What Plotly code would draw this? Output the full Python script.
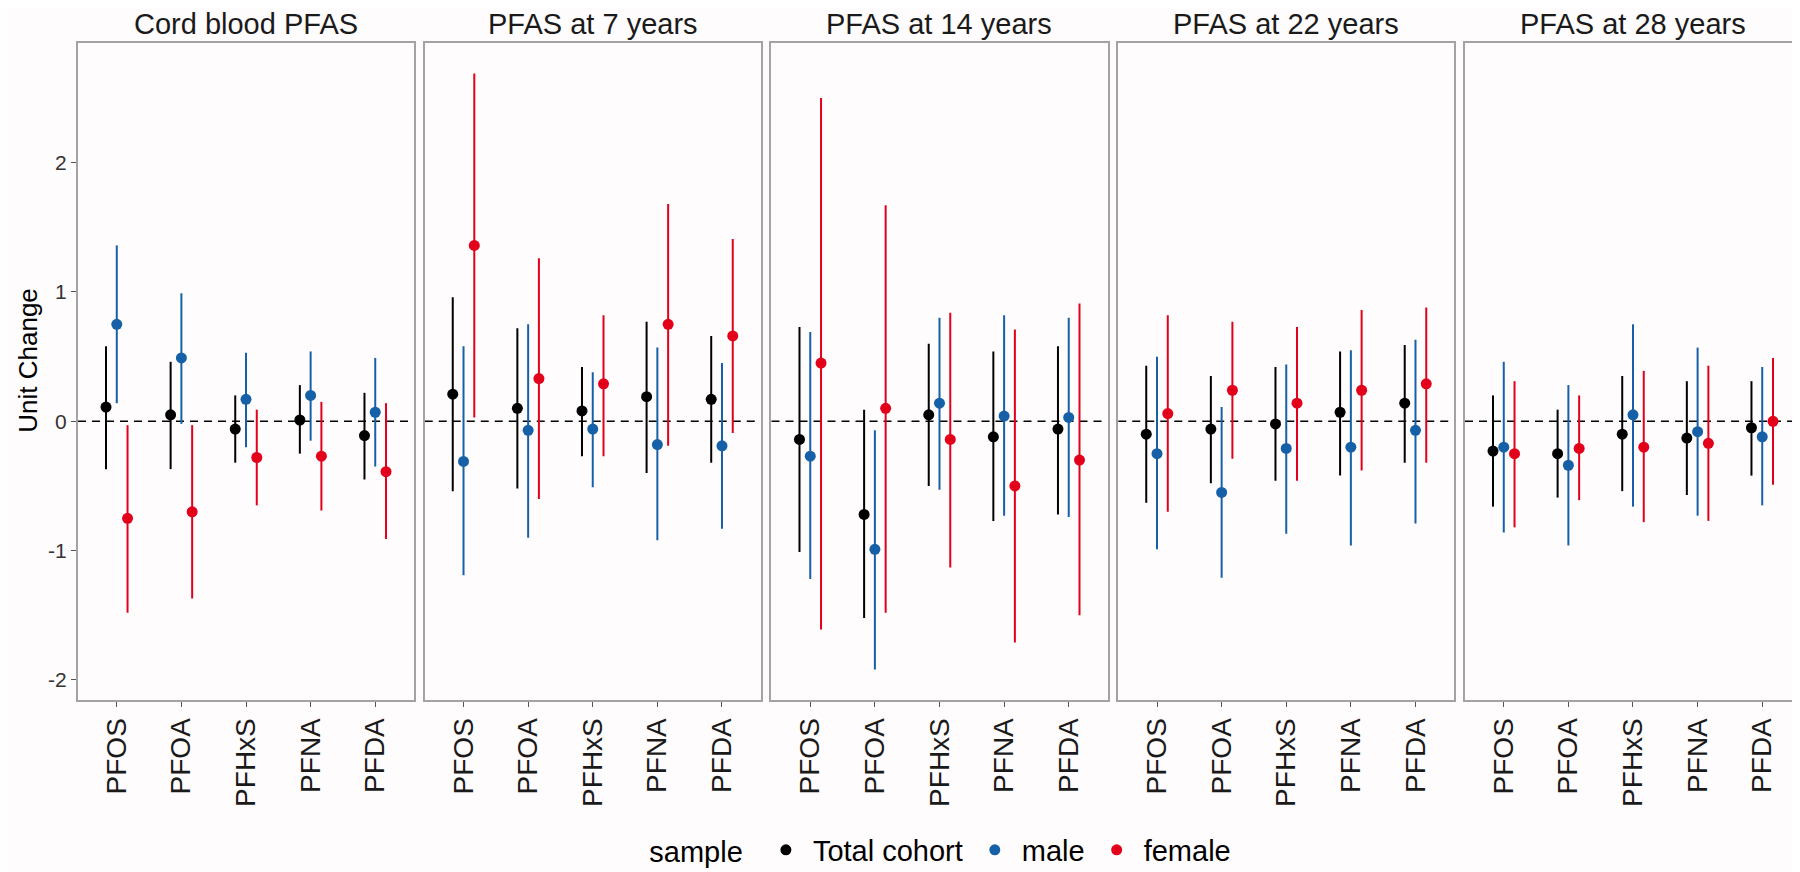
import plotly.graph_objects as go

# ---------------- data ----------------
panels = ["Cord blood PFAS", "PFAS at 7 years", "PFAS at 14 years",
          "PFAS at 22 years", "PFAS at 28 years"]
compounds = ["PFOS", "PFOA", "PFHxS", "PFNA", "PFDA"]
series = ["Total cohort", "male", "female"]

total_est = [[0.11, 0.05, -0.06, 0.01, -0.11],
             [0.21, 0.10, 0.08, 0.19, 0.17],
             [-0.14, -0.72, 0.05, -0.12, -0.06],
             [-0.10, -0.06, -0.02, 0.07, 0.14],
             [-0.23, -0.25, -0.10, -0.13, -0.05]]
total_lo = [[-0.37, -0.37, -0.32, -0.25, -0.45],
            [-0.54, -0.52, -0.27, -0.40, -0.32],
            [-1.01, -1.52, -0.50, -0.77, -0.72],
            [-0.63, -0.48, -0.46, -0.42, -0.32],
            [-0.66, -0.59, -0.54, -0.57, -0.42]]
total_hi = [[0.58, 0.46, 0.20, 0.28, 0.22],
            [0.96, 0.72, 0.42, 0.77, 0.66],
            [0.73, 0.09, 0.60, 0.54, 0.58],
            [0.43, 0.35, 0.42, 0.54, 0.59],
            [0.20, 0.09, 0.35, 0.31, 0.31]]

male_est = [[0.75, 0.49, 0.17, 0.20, 0.07],
            [-0.31, -0.07, -0.06, -0.18, -0.19],
            [-0.27, -0.99, 0.14, 0.04, 0.03],
            [-0.25, -0.55, -0.21, -0.20, -0.07],
            [-0.20, -0.34, 0.05, -0.08, -0.12]]
male_lo = [[0.14, -0.02, -0.20, -0.15, -0.35],
           [-1.19, -0.90, -0.51, -0.92, -0.83],
           [-1.22, -1.92, -0.53, -0.73, -0.74],
           [-0.99, -1.21, -0.87, -0.96, -0.79],
           [-0.86, -0.96, -0.66, -0.73, -0.65]]
male_hi = [[1.36, 0.99, 0.53, 0.54, 0.49],
           [0.58, 0.75, 0.38, 0.57, 0.45],
           [0.69, -0.07, 0.80, 0.82, 0.80],
           [0.50, 0.11, 0.44, 0.55, 0.63],
           [0.46, 0.28, 0.75, 0.57, 0.42]]

female_est = [[-0.75, -0.70, -0.28, -0.27, -0.39],
              [1.36, 0.33, 0.29, 0.75, 0.66],
              [0.45, 0.10, -0.14, -0.50, -0.30],
              [0.06, 0.24, 0.14, 0.24, 0.29],
              [-0.25, -0.21, -0.20, -0.17, 0.00]]
female_lo = [[-1.48, -1.37, -0.65, -0.69, -0.91],
             [0.03, -0.60, -0.27, -0.19, -0.09],
             [-1.61, -1.48, -1.13, -1.71, -1.50],
             [-0.70, -0.29, -0.46, -0.38, -0.32],
             [-0.82, -0.61, -0.78, -0.77, -0.49]]
female_hi = [[-0.03, -0.03, 0.09, 0.15, 0.14],
             [2.69, 1.26, 0.82, 1.68, 1.41],
             [2.50, 1.67, 0.84, 0.71, 0.91],
             [0.82, 0.77, 0.73, 0.86, 0.88],
             [0.31, 0.20, 0.39, 0.43, 0.49]]

y_ticks = [-2, -1, 0, 1, 2]

# ---------------- styling ----------------
colors = {"Total cohort": "#000000", "male": "#1660A8", "female": "#E2001A"}
bg = "#FFFCFD"
border = "#A3A3A3"
FONT = "Liberation Sans, Arial, sans-serif"

W, H = 1800, 872
ML, MR, MT, MB = 70, 5, 35, 171
plot_w = W - ML - MR
plot_h = H - MT - MB
panel_w = 336.4
gap = (plot_w - 5 * panel_w) / 4

est = {"Total cohort": total_est, "male": male_est, "female": female_est}
lo = {"Total cohort": total_lo, "male": male_lo, "female": female_lo}
hi = {"Total cohort": total_hi, "male": male_hi, "female": female_hi}

fig = go.Figure()
layout = {}
shapes = []
annotations = []

for p, title in enumerate(panels):
    ax = "" if p == 0 else str(p + 1)
    x0 = p * (panel_w + gap) / plot_w
    x1 = (p * (panel_w + gap) + panel_w) / plot_w
    for s in series:
        e = est[s][p]
        l = lo[s][p]
        h = hi[s][p]
        fig.add_trace(go.Scatter(
            x=compounds, y=e, mode="markers", name=s,
            legendgroup=s, showlegend=(p == 0),
            offsetgroup=s,
            marker=dict(color=colors[s], size=11),
            error_y=dict(type="data", symmetric=False,
                         array=[hh - ee for hh, ee in zip(h, e)],
                         arrayminus=[ee - ll for ee, ll in zip(e, l)],
                         width=0, thickness=2, color=colors[s]),
            xaxis="x" + ax, yaxis="y" + ax,
        ))
    layout["xaxis" + ax] = dict(
        domain=[x0, x1], anchor="y" + ax, type="category",
        categoryorder="array", categoryarray=compounds,
        range=[-0.6, 4.6], showline=True, mirror=True, linecolor=border,
        linewidth=2, ticks="outside", ticklen=5, tickwidth=1.2, tickcolor="#555555",
        tickangle=-90, showgrid=False, zeroline=False,
        tickfont=dict(family=FONT, size=28, color="#1a1a1a"),
    )
    ydict = dict(
        domain=[0, 1], anchor="x" + ax, range=[-2.155, 2.925],
        showline=True, mirror=True, linecolor=border, linewidth=2,
        showgrid=False, zeroline=False,
    )
    if p == 0:
        ydict.update(tickvals=y_ticks, ticktext=[str(v) for v in y_ticks],
                     ticks="outside", ticklen=5, tickwidth=1.2, tickcolor="#555555",
                     tickfont=dict(family=FONT, size=21, color="#333333"))
    else:
        ydict.update(matches="y", showticklabels=False, ticks="",
                     tickvals=y_ticks)
    layout["yaxis" + ax] = ydict
    shapes.append(dict(type="line", xref="x" + ax + " domain", yref="y" + ax,
                       x0=0, x1=1, y0=0, y1=0, layer="below",
                       line=dict(color="black", width=1.6, dash="8px,6px")))
    annotations.append(dict(text=title, x=(x0 + x1) / 2, y=1 + (MT - 16) / plot_h,
                            xref="paper", yref="paper", showarrow=False,
                            xanchor="center", yanchor="middle",
                            font=dict(family=FONT, size=29, color="#1a1a1a")))

annotations.append(dict(text="Unit Change", x=(20 - ML) / plot_w, y=(H - MB - 357) / plot_h,
                        xref="paper", yref="paper", showarrow=False, textangle=-90,
                        xanchor="center", yanchor="middle",
                        font=dict(family=FONT, size=26, color="#000000")))

fig.update_layout(
    width=W, height=H,
    margin=dict(l=ML, r=MR, t=MT, b=MB),
    paper_bgcolor=bg, plot_bgcolor=bg,
    scattermode="group", scattergap=0.5,
    shapes=shapes, annotations=annotations,
    showlegend=True,
    legend=dict(orientation="h", x=(640 - ML) / plot_w, xanchor="left",
                y=-(853 - (H - MB)) / plot_h, yanchor="middle",
                title=dict(text="sample ", font=dict(family=FONT, size=29, color="#000000")),
                font=dict(family=FONT, size=29, color="#000000"),
                bgcolor="rgba(0,0,0,0)", itemwidth=44),
    **layout,
)

fig.write_html("out.html")
